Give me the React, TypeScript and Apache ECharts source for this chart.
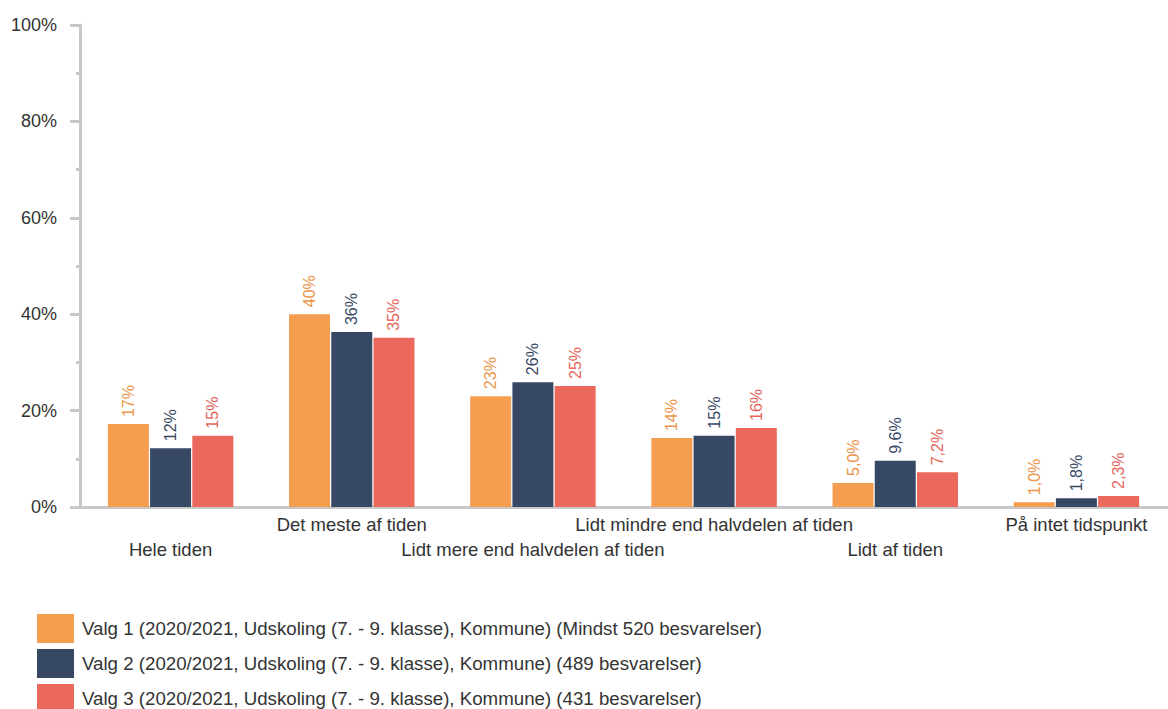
import React, { useEffect, useRef } from "react";
import * as echarts from "echarts";

const categories = [
  "Hele tiden",
  "Det meste af tiden",
  "Lidt mere end halvdelen af tiden",
  "Lidt mindre end halvdelen af tiden",
  "Lidt af tiden",
  "På intet tidspunkt",
];
const seriesNames = [
  "Valg 1 (2020/2021, Udskoling (7. - 9. klasse), Kommune) (Mindst 520 besvarelser)",
  "Valg 2 (2020/2021, Udskoling (7. - 9. klasse), Kommune) (489 besvarelser)",
  "Valg 3 (2020/2021, Udskoling (7. - 9. klasse), Kommune) (431 besvarelser)",
];
const valg1 = [17.2, 40.0, 23.0, 14.3, 5.0, 1.0];
const valg2 = [12.2, 36.3, 25.9, 14.8, 9.6, 1.8];
const valg3 = [14.8, 35.1, 25.1, 16.4, 7.2, 2.3];
const colors = ["#F59E4F", "#374865", "#EA685C"];
const labelColors = ["#EC9448", "#374865", "#E5645A"];

const fmt = (v: number) =>
  v >= 10 ? Math.round(v) + "%" : v.toFixed(1).replace(".", ",") + "%";

export default function App() {
  const ref = useRef<HTMLDivElement>(null);
  useEffect(() => {
    const chart = echarts.init(ref.current!, null, { renderer: "svg" });
    const data = [valg1, valg2, valg3];
    chart.setOption({
      animation: false,
      textStyle: { fontFamily: "Liberation Sans, Arial, sans-serif" },
      grid: { left: 80, right: 1, top: 25, bottom: 202, containLabel: false },
      legend: {
        orient: "vertical",
        left: 37,
        top: 614,
        height: 120,
        padding: 0,
        itemWidth: 37,
        itemHeight: 29,
        itemGap: 6,
        icon: "rect",
        textStyle: { fontSize: 18.7, color: "#333", padding: [0, 0, 0, 3] },
        data: seriesNames,
      },
      xAxis: {
        type: "category",
        data: categories,
        axisLine: { lineStyle: { color: "#c8c8c8", width: 3 } },
        axisTick: { show: false },
        axisLabel: {
          interval: 0,
          color: "#333",
          fontSize: 18.5,
          lineHeight: 25,
          margin: 5,
          formatter: (v: string, i: number) => (i % 2 === 0 ? "\n" + v : v),
        },
      },
      yAxis: {
        type: "value",
        min: 0,
        max: 100,
        interval: 20,
        axisLine: { show: true, lineStyle: { color: "#c8c8c8", width: 3 } },
        axisTick: { show: true, length: 10, lineStyle: { color: "#c8c8c8", width: 3 } },
        minorTick: { show: true, splitNumber: 2, length: 4, lineStyle: { color: "#c8c8c8", width: 3 } },
        splitLine: { show: false },
        axisLabel: { color: "#333", fontSize: 18, margin: 23, formatter: "{value}%" },
      },
      series: data.map((d, i) => ({
        name: seriesNames[i],
        type: "bar",
        data: d,
        barWidth: 41,
        barGap: "3%",
        itemStyle: { color: colors[i] },
        label: {
          show: true,
          position: "top",
          rotate: 90,
          align: "left",
          verticalAlign: "middle",
          distance: 7,
          fontSize: 16,
          color: labelColors[i],
          formatter: (p: any) => fmt(p.value),
        },
      })),
    });
    return () => chart.dispose();
  }, []);
  return (
    <div
      ref={ref}
      style={{ position: "fixed", left: 0, top: 0, width: 1168, height: 709, background: "#fff" }}
    />
  );
}
